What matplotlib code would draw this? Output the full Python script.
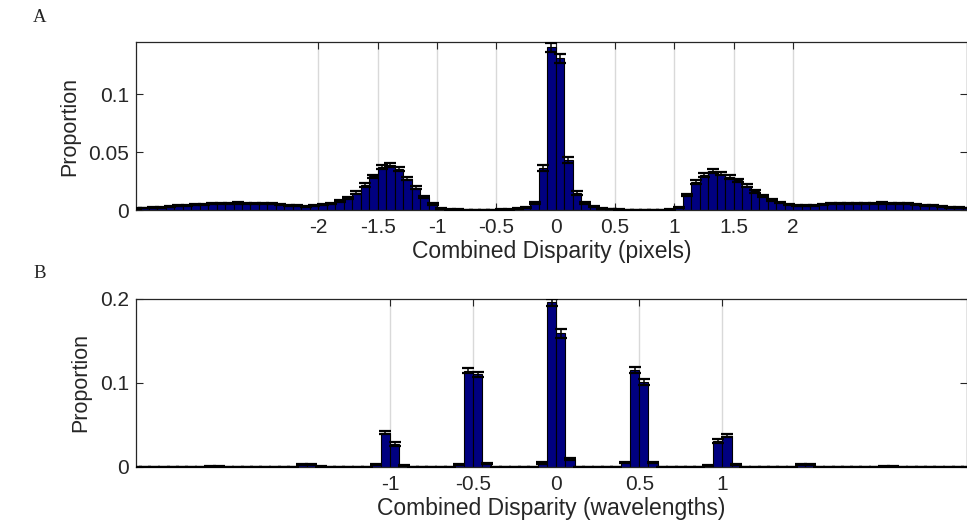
import numpy as np
import matplotlib
matplotlib.use("Agg")
import matplotlib.pyplot as plt

plt.rcParams['font.family'] = ['Liberation Sans', 'DejaVu Sans']

# ---------------- Panel A : disparity in pixels ----------------
binw_A = 1 / 14.0
first_bin_A = -50          # index of first bin (left edge = index * width)
prop_A = [
    0.0015, 0.0017, 0.0020, 0.0025, 0.0030, 0.0036, 0.0042, 0.0046, 0.0050, 0.0054,   # -50..-41
    0.0057, 0.0059, 0.0060, 0.0059, 0.0058, 0.0057, 0.0055, 0.0050, 0.0042, 0.0035,   # -40..-31
    0.0030, 0.0035, 0.0045, 0.0055, 0.0075, 0.0105, 0.0150, 0.0215, 0.0290, 0.0370,   # -30..-21
    0.0390, 0.0350, 0.0270, 0.0190, 0.0115, 0.0050, 0.0015, 0.0004, 0.0003, 0.0002,   # -20..-11
    0.0002, 0.0002, 0.0002, 0.0003, 0.0005, 0.0010, 0.0025, 0.0060, 0.0365, 0.1405,   # -10..-1
    0.1310, 0.0435, 0.0145, 0.0060, 0.0030, 0.0015, 0.0008, 0.0004, 0.0002, 0.0002,   # 0..9
    0.0002, 0.0002, 0.0002, 0.0004, 0.0020, 0.0130, 0.0240, 0.0305, 0.0335, 0.0315,   # 10..19
    0.0285, 0.0255, 0.0210, 0.0160, 0.0120, 0.0090, 0.0065, 0.0048, 0.0038, 0.0035,   # 20..29
    0.0040, 0.0048, 0.0053, 0.0057, 0.0058, 0.0058, 0.0057, 0.0058, 0.0060, 0.0059,   # 30..39
    0.0057, 0.0053, 0.0048, 0.0042, 0.0036, 0.0030, 0.0025, 0.0021, 0.0018,           # 40..48
]
err_A = [
    0.0003, 0.0003, 0.0003, 0.0004, 0.0004, 0.0004, 0.0005, 0.0005, 0.0005, 0.0005,
    0.0005, 0.0005, 0.0005, 0.0005, 0.0005, 0.0005, 0.0005, 0.0005, 0.0005, 0.0004,
    0.0004, 0.0004, 0.0005, 0.0006, 0.0008, 0.0010, 0.0012, 0.0014, 0.0016, 0.0018,
    0.0018, 0.0017, 0.0015, 0.0013, 0.0010, 0.0007, 0.0004, 0.0002, 0.0002, 0.0002,
    0.0002, 0.0002, 0.0002, 0.0002, 0.0003, 0.0004, 0.0004, 0.0008, 0.0026, 0.0040,
    0.0040, 0.0026, 0.0017, 0.0010, 0.0005, 0.0004, 0.0003, 0.0002, 0.0002, 0.0002,
    0.0002, 0.0002, 0.0002, 0.0002, 0.0004, 0.0012, 0.0015, 0.0017, 0.0018, 0.0017,
    0.0016, 0.0015, 0.0014, 0.0012, 0.0010, 0.0009, 0.0007, 0.0006, 0.0005, 0.0004,
    0.0005, 0.0005, 0.0005, 0.0005, 0.0005, 0.0005, 0.0005, 0.0005, 0.0005, 0.0005,
    0.0005, 0.0005, 0.0005, 0.0005, 0.0004, 0.0004, 0.0004, 0.0003, 0.0003,
]
xticks_A = [-2, -1.5, -1, -0.5, 0, 0.5, 1, 1.5, 2]
xticklabels_A = ['-2', '-1.5', '-1', '-0.5', '0', '0.5', '1', '1.5', '2']
yticks_A = [0, 0.05, 0.1]
yticklabels_A = ['0', '0.05', '0.1']

# ---------------- Panel B : disparity in wavelengths ----------------
binw_B = 1 / 18.0
first_bin_B = -46
prop_B = [
    0.0003, 0.0003, 0.0003, 0.0003, 0.0003, 0.0003, 0.0003, 0.0003, 0.0005, 0.0005,   # -46..-37
    0.0003, 0.0003, 0.0003, 0.0003, 0.0003, 0.0003, 0.0003, 0.0003, 0.0030, 0.0030,   # -36..-27
    0.0005, 0.0003, 0.0003, 0.0003, 0.0003, 0.0003, 0.0030, 0.0410, 0.0275, 0.0020,   # -26..-17
    0.0003, 0.0003, 0.0003, 0.0003, 0.0003, 0.0030, 0.1145, 0.1105, 0.0040, 0.0003,   # -16..-7
    0.0003, 0.0003, 0.0003, 0.0003, 0.0050, 0.1960, 0.1590, 0.0090, 0.0003, 0.0003,   # -6..3
    0.0003, 0.0003, 0.0003, 0.0050, 0.1160, 0.1010, 0.0050, 0.0003, 0.0003, 0.0003,   # 4..13
    0.0003, 0.0003, 0.0020, 0.0310, 0.0370, 0.0030, 0.0003, 0.0003, 0.0003, 0.0003,   # 14..23
    0.0003, 0.0003, 0.0030, 0.0025, 0.0003, 0.0003, 0.0003, 0.0003, 0.0003, 0.0003,   # 24..33
    0.0003, 0.0005, 0.0005, 0.0003, 0.0003, 0.0003, 0.0003, 0.0003, 0.0003, 0.0003,   # 34..43
    0.0003,                                                                           # 44
]
err_B = [
    0.0002, 0.0002, 0.0002, 0.0002, 0.0002, 0.0002, 0.0002, 0.0002, 0.0002, 0.0002,
    0.0002, 0.0002, 0.0002, 0.0002, 0.0002, 0.0002, 0.0002, 0.0002, 0.0005, 0.0005,
    0.0002, 0.0002, 0.0002, 0.0002, 0.0002, 0.0002, 0.0006, 0.0022, 0.0024, 0.0005,
    0.0002, 0.0002, 0.0002, 0.0002, 0.0002, 0.0006, 0.0030, 0.0030, 0.0007, 0.0002,
    0.0002, 0.0002, 0.0002, 0.0002, 0.0010, 0.0045, 0.0050, 0.0012, 0.0002, 0.0002,
    0.0002, 0.0002, 0.0002, 0.0008, 0.0036, 0.0038, 0.0008, 0.0002, 0.0002, 0.0002,
    0.0002, 0.0002, 0.0005, 0.0020, 0.0017, 0.0006, 0.0002, 0.0002, 0.0002, 0.0002,
    0.0002, 0.0002, 0.0005, 0.0005, 0.0002, 0.0002, 0.0002, 0.0002, 0.0002, 0.0002,
    0.0002, 0.0002, 0.0002, 0.0002, 0.0002, 0.0002, 0.0002, 0.0002, 0.0002, 0.0002,
    0.0002,
]
xticks_B = [-1, -0.5, 0, 0.5, 1]
xticklabels_B = ['-1', '-0.5', '0', '0.5', '1']
yticks_B = [0, 0.1, 0.2]
yticklabels_B = ['0', '0.1', '0.2']

xlabel_A = 'Combined Disparity (pixels)'
xlabel_B = 'Combined Disparity (wavelengths)'
ylabel = 'Proportion'

BAR_COLOR = '#000080'
TXT = '#262626'
W, H = 967, 531
fig = plt.figure(figsize=(W / 100, H / 100), dpi=100)


def px_axes(left, top, right, bottom):
    return fig.add_axes([left / W, 1 - bottom / H, (right - left) / W, (bottom - top) / H])


def draw_panel(ax, first_bin, binw, props, errs, half_range, ylim,
               xt, xtl, yt, ytl, xlab):
    n = len(props)
    centers = (first_bin + np.arange(n) + 0.5) * binw
    ax.bar(centers, props, width=binw, color=BAR_COLOR, edgecolor='black',
           linewidth=0.8, zorder=2)
    ax.errorbar(centers, props, yerr=errs, fmt='none', ecolor='black',
                elinewidth=1.1, capsize=4.0, capthick=1.6, zorder=3)
    ax.set_xlim(-half_range - binw / 2, half_range - binw / 2)
    ax.set_ylim(*ylim)
    ax.set_xticks(xt)
    ax.set_xticklabels(xtl)
    ax.set_yticks(yt)
    ax.set_yticklabels(ytl)
    ax.set_axisbelow(True)
    ax.grid(axis='x', color='#d9d9d9', linewidth=1.0, zorder=0)
    ax.tick_params(direction='in', top=True, right=True, length=5, width=0.8,
                   labelsize=15, colors=TXT)
    ax.tick_params(axis='x', pad=6)
    ax.tick_params(axis='y', pad=5)
    for s in ax.spines.values():
        s.set_color(TXT)
        s.set_linewidth(0.9)
    ax.set_xlabel(xlab, fontsize=16.5, color=TXT, labelpad=2)
    ax.set_ylabel(ylabel, fontsize=15.5, color=TXT, labelpad=6)


axA = px_axes(136, 42, 967, 210)
draw_panel(axA, first_bin_A, binw_A, prop_A, err_A, 3.5, (0, 0.145),
           xticks_A, xticklabels_A, yticks_A, yticklabels_A, xlabel_A)

axB = px_axes(136, 299, 967, 467)
draw_panel(axB, first_bin_B, binw_B, prop_B, err_B, 2.5, (0, 0.2),
           xticks_B, xticklabels_B, yticks_B, yticklabels_B, xlabel_B)

fig.text(40 / W, 1 - 18 / H, 'A', family='Liberation Serif', fontsize=13.5,
         ha='center', va='center', color='#222222')
fig.text(40 / W, 1 - 273 / H, 'B', family='Liberation Serif', fontsize=13.5,
         ha='center', va='center', color='#222222')

fig.savefig('out.png', dpi=100, facecolor='white')
